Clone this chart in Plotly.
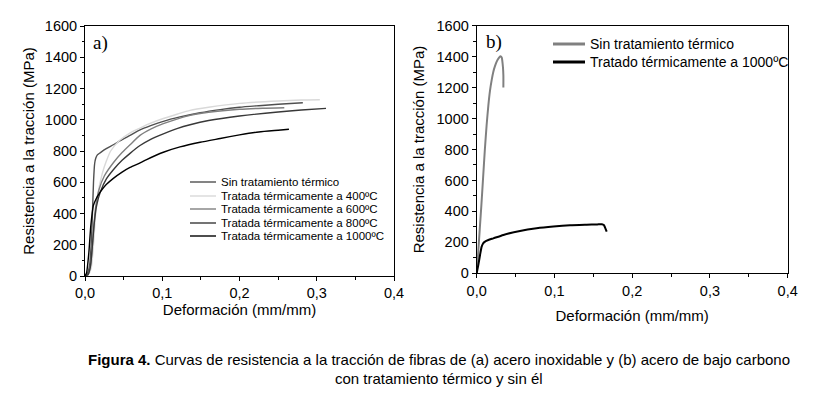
import plotly.graph_objects as go

W, H = 823, 395
OFF = 8  # page body margin offset

# ---------------- Data: panel a) stainless steel fibres ----------------
a_names = ["Sin tratamiento térmico",
           "Tratada térmicamente a 400ºC",
           "Tratada térmicamente a 600ºC",
           "Tratada térmicamente a 800ºC",
           "Tratada térmicamente a 1000ºC"]

a_sin_x = [0, 0.003, 0.006, 0.008, 0.0095, 0.011, 0.0125, 0.014, 0.016, 0.02, 0.0275, 0.0367,
           0.048, 0.0583, 0.0712, 0.085, 0.1014, 0.123, 0.149, 0.175, 0.2, 0.225, 0.25, 0.282]
a_sin_y = [0, 15, 70, 200, 380, 600, 720, 755, 775, 790, 815, 840,
           873, 900, 935, 962, 990, 1018, 1045, 1065, 1080, 1090, 1099, 1109]

a_400_x = [0, 0.004, 0.008, 0.011, 0.0135, 0.0165, 0.0224, 0.028, 0.0332, 0.0453, 0.058,
           0.0712, 0.085, 0.1014, 0.12, 0.136, 0.16, 0.2, 0.25, 0.28, 0.304]
a_400_y = [0, 8, 50, 200, 380, 520, 657, 740, 800, 870, 915,
           947, 978, 1008, 1037, 1060, 1080, 1105, 1120, 1126, 1128]

a_600_x = [0, 0.004, 0.0075, 0.0105, 0.0135, 0.018, 0.025, 0.0367, 0.048, 0.0583, 0.0712,
           0.085, 0.1014, 0.123, 0.136, 0.16, 0.2, 0.23, 0.258]
a_600_y = [0, 10, 80, 260, 430, 550, 640, 725, 790, 840, 900,
           940, 975, 1010, 1028, 1048, 1067, 1074, 1077]

a_800_x = [0, 0.004, 0.007, 0.0095, 0.012, 0.015, 0.02, 0.0275, 0.0367, 0.048, 0.0583,
           0.0712, 0.085, 0.1014, 0.12, 0.136, 0.16, 0.2, 0.25, 0.28, 0.312]
a_800_y = [0, 10, 60, 190, 340, 450, 540, 620, 680, 740, 785,
           835, 875, 910, 945, 968, 995, 1024, 1050, 1062, 1073]

a_1000_x = [0, 0.002, 0.005, 0.0075, 0.0108, 0.014, 0.0194, 0.0275, 0.0367, 0.048, 0.0583,
            0.072, 0.0798, 0.1014, 0.123, 0.149, 0.175, 0.2, 0.225, 0.25, 0.264]
a_1000_y = [0, 20, 150, 320, 450, 490, 535, 585, 625, 665, 695,
            725, 745, 792, 826, 856, 880, 903, 922, 933, 939]

# ---------------- Data: panel b) low carbon steel fibres ----------------
b_names = ["Sin tratamiento térmico", "Tratado térmicamente a 1000ºC"]

b_sin_x = [0, 0.002, 0.004, 0.006, 0.008, 0.0105, 0.0128, 0.015, 0.0171, 0.0193, 0.0214,
           0.0236, 0.0257, 0.0283, 0.0305, 0.0322, 0.033, 0.0338, 0.0343, 0.0343]
b_sin_y = [0, 140, 290, 440, 600, 800, 960, 1085, 1180, 1250, 1303,
           1340, 1368, 1390, 1402, 1395, 1370, 1330, 1280, 1200]

b_1000_x = [0, 0.0021, 0.0043, 0.0064, 0.0085, 0.0107, 0.015, 0.0214, 0.0343, 0.0557, 0.077,
            0.0986, 0.12, 0.1414, 0.155, 0.161, 0.1635, 0.165, 0.1672]
b_1000_y = [0, 54, 118, 172, 195, 205, 215, 226, 248, 274, 291,
            302, 310, 314, 316, 317, 312, 297, 269]

x_ticks = [0, 0.1, 0.2, 0.3, 0.4]
y_ticks = [0, 200, 400, 600, 800, 1000, 1200, 1400, 1600]

a_colors = ["#505050", "#d9d9d9", "#808080", "#383838", "#000000"]
b_colors = ["#808080", "#000000"]

# ---------------- helpers (screen pixel -> paper) ----------------
def px(x):
    return (x - OFF) / W

def py(y):
    return 1 - (y - OFF) / H

FONT = "Liberation Sans, Arial, sans-serif"

fig = go.Figure()

a_series = [(a_sin_x, a_sin_y), (a_400_x, a_400_y), (a_600_x, a_600_y),
            (a_800_x, a_800_y), (a_1000_x, a_1000_y)]
for (xs, ys), name, col in zip(a_series, a_names, a_colors):
    fig.add_trace(go.Scatter(x=xs, y=ys, mode="lines", name=name, showlegend=False,
                             line=dict(color=col, width=1.4, shape="spline", smoothing=0.6),
                             xaxis="x", yaxis="y"))

b_series = [(b_sin_x, b_sin_y), (b_1000_x, b_1000_y)]
for (xs, ys), name, col in zip(b_series, b_names, b_colors):
    fig.add_trace(go.Scatter(x=xs, y=ys, mode="lines", name=name, showlegend=False,
                             line=dict(color=col, width=2, shape="spline", smoothing=0.6),
                             xaxis="x2", yaxis="y2"))

def xaxis(domain, anchor, standoff):
    return dict(domain=domain, anchor=anchor, range=[0, 0.4], tickvals=x_ticks,
                tickformat=".1f", showline=True, mirror=True, linecolor="black", linewidth=1,
                ticks="outside", ticklen=4, tickcolor="black", showgrid=False, zeroline=False,
                automargin=False,
                minor=dict(dtick=0.05, tick0=0, ticks="outside", ticklen=2.5, tickcolor="black"),
                tickfont=dict(family=FONT, size=14.5, color="black"),
                title=dict(text="Deformación (mm/mm)", standoff=standoff,
                           font=dict(family=FONT, size=15, color="black")))

def yaxis(domain, anchor, standoff):
    return dict(domain=domain, anchor=anchor, range=[0, 1600], tickvals=y_ticks,
                showline=True, mirror=True, linecolor="black", linewidth=1,
                ticks="outside", ticklen=4, tickcolor="black", showgrid=False, zeroline=False,
                automargin=False,
                minor=dict(dtick=100, tick0=0, ticks="outside", ticklen=2.5, tickcolor="black"),
                tickfont=dict(family=FONT, size=14.5, color="black"),
                title=dict(text="Resistencia a la tracción (MPa)", standoff=standoff,
                           font=dict(family=FONT, size=15, color="black")))

shapes = []
annotations = []

# legend a (manual, compact spacing like the original)
leg_a_rows = [182, 196, 209, 223, 236]
for name, col, yy in zip(a_names, a_colors, leg_a_rows):
    shapes.append(dict(type="line", xref="paper", yref="paper",
                       x0=px(190), x1=px(216), y0=py(yy), y1=py(yy),
                       line=dict(color=col, width=1.4)))
    annotations.append(dict(text=name, xref="paper", yref="paper", x=px(219), y=py(yy),
                            xanchor="left", yanchor="middle", showarrow=False,
                            font=dict(family=FONT, size=11.5, color="black")))

# legend b
leg_b_rows = [44, 62]
for name, col, yy in zip(b_names, b_colors, leg_b_rows):
    shapes.append(dict(type="line", xref="paper", yref="paper",
                       x0=px(553), x1=px(585), y0=py(yy), y1=py(yy),
                       line=dict(color=col, width=3)))
    annotations.append(dict(text=name, xref="paper", yref="paper", x=px(588), y=py(yy),
                            xanchor="left", yanchor="middle", showarrow=False,
                            font=dict(family=FONT, size=14, color="black")))

# panel labels
annotations.append(dict(text="a)", xref="paper", yref="paper", x=px(91), y=py(43),
                        xanchor="left", yanchor="middle", showarrow=False,
                        font=dict(family="Liberation Serif, Times New Roman, serif", size=19, color="black")))
annotations.append(dict(text="b)", xref="paper", yref="paper", x=px(484), y=py(42),
                        xanchor="left", yanchor="middle", showarrow=False,
                        font=dict(family="Liberation Serif, Times New Roman, serif", size=19, color="black")))

# caption
CAP_FONT = "Liberation Sans Narrow, Arial Narrow, Liberation Sans, Arial, sans-serif"
annotations.append(dict(text="<b>Figura 4.</b> Curvas de resistencia a la tracción de fibras de (a) acero inoxidable y (b) acero de bajo carbono",
                        xref="paper", yref="paper", x=px(439), y=py(359), xanchor="center", yanchor="middle",
                        showarrow=False, font=dict(family=CAP_FONT, size=15, color="black")))
annotations.append(dict(text="con tratamiento térmico y sin él",
                        xref="paper", yref="paper", x=px(439), y=py(378), xanchor="center", yanchor="middle",
                        showarrow=False, font=dict(family=CAP_FONT, size=15, color="black")))

fig.update_layout(
    width=W, height=H,
    margin=dict(l=0, r=0, t=0, b=0, autoexpand=False),
    paper_bgcolor="white", plot_bgcolor="white",
    separators=",.",
    showlegend=False,
    xaxis=xaxis([px(85), px(394)], "y", 2),
    yaxis=yaxis([py(276), py(26)], "x", 6),
    xaxis2=xaxis([px(476.7), px(787.7)], "y2", 12),
    yaxis2=yaxis([py(273.3), py(25.7)], "x2", 8),
    shapes=shapes,
    annotations=annotations,
)

fig.write_html("out.html")
